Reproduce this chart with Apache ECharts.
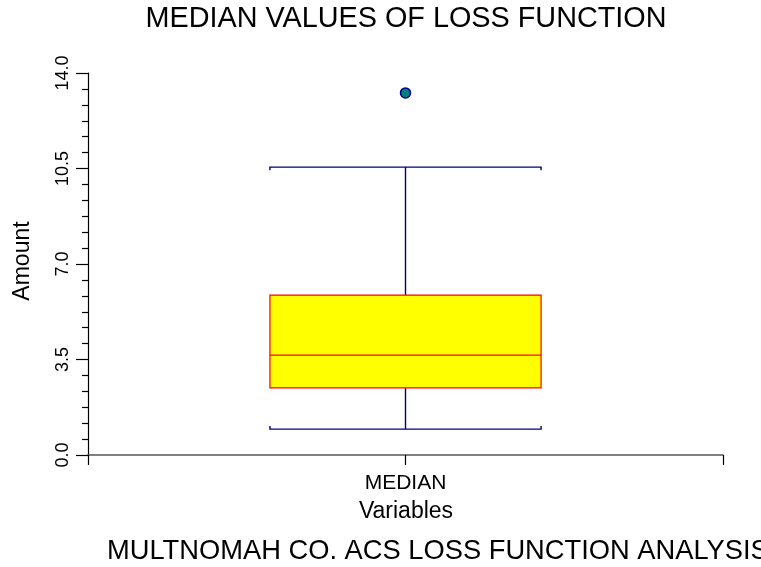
<!DOCTYPE html>
<html>
<head>
<meta charset="utf-8">
<script src="https://cdn.jsdelivr.net/npm/echarts@6/dist/echarts.min.js"></script>
<style>
html,body{margin:0;padding:0;background:#fff;}
#chart{width:761px;height:567px;}
</style>
</head>
<body>
<div id="chart"></div>
<script>
// ---- data ----
var categories = ['MEDIAN'];
var lowWhisker = [0.95];
var q1 = [2.46];
var median = [3.66];
var q3 = [5.86];
var highWhisker = [10.55];
var outliers = [13.27];
var yTicks = [0, 3.5, 7, 10.5, 14];

var FONT = '"Liberation Sans", Arial, sans-serif';

var boxData = categories.map(function (c, i) {
  return [i + 1, lowWhisker[i], q1[i], median[i], q3[i], highWhisker[i]];
});
var outlierData = outliers.map(function (v) { return [1, v]; });

var chart = echarts.init(document.getElementById('chart'), null, {renderer: 'canvas'});

function renderBox(params, api) {
  var x = api.value(0);
  var pLow = api.coord([x, api.value(1)]);
  var pQ1 = api.coord([x, api.value(2)]);
  var pMed = api.coord([x, api.value(3)]);
  var pQ3 = api.coord([x, api.value(4)]);
  var pHigh = api.coord([x, api.value(5)]);
  var halfW = api.size([1, 0])[0] * 0.427;
  var cx = pMed[0];
  var l = cx - halfW, r = cx + halfW;
  var wStyle = {stroke: '#000080', lineWidth: 1.4, fill: null};
  var bStyle = {stroke: '#ff0000', lineWidth: 1.2};
  return {
    type: 'group',
    children: [
      {type: 'line', shape: {x1: cx, y1: pHigh[1], x2: cx, y2: pQ3[1]}, style: wStyle},
      {type: 'line', shape: {x1: cx, y1: pQ1[1], x2: cx, y2: pLow[1]}, style: wStyle},
      {type: 'polyline', shape: {points: [[l, pHigh[1] + 3], [l, pHigh[1]], [r, pHigh[1]], [r, pHigh[1] + 3]]}, style: wStyle},
      {type: 'polyline', shape: {points: [[l, pLow[1] - 3], [l, pLow[1]], [r, pLow[1]], [r, pLow[1] - 3]]}, style: wStyle},
      {type: 'rect', shape: {x: l, y: pQ3[1], width: r - l, height: pQ1[1] - pQ3[1]},
        style: {fill: '#ffff00', stroke: '#ff0000', lineWidth: 1.2}},
      {type: 'line', shape: {x1: l, y1: pMed[1], x2: r, y2: pMed[1]}, style: bStyle}
    ]
  };
}

var option = {
  backgroundColor: '#ffffff',
  animation: false,
  grid: {left: 88, right: 38, top: 73, bottom: 112, containLabel: false},
  xAxis: {
    type: 'value',
    min: 0, max: 2, interval: 1,
    splitLine: {show: false},
    axisLine: {lineStyle: {color: '#555555', width: 1.5}},
    axisTick: {show: true, length: 10, lineStyle: {color: '#000000', width: 1.2}},
    axisLabel: {
      margin: 18,
      fontFamily: FONT, fontSize: 21, color: '#000',
      formatter: function (v) { return (v === 1) ? categories[0] : ''; }
    }
  },
  yAxis: {
    type: 'value',
    min: yTicks[0], max: yTicks[yTicks.length - 1], interval: 3.5,
    splitLine: {show: false},
    axisLine: {show: true, lineStyle: {color: '#000000', width: 1.2}},
    axisTick: {show: true, length: 12, lineStyle: {color: '#000000', width: 1.2}},
    minorTick: {show: true, splitNumber: 6, length: 6, lineStyle: {color: '#000000', width: 1.2}},
    axisLabel: {
      rotate: 90, margin: 16,
      fontFamily: FONT, fontSize: 18, color: '#000',
      formatter: function (v) { return v.toFixed(1); }
    }
  },
  graphic: [
    {type: 'text', x: 406, y: 19, style: {text: 'MEDIAN VALUES OF LOSS FUNCTION', font: '28.8px ' + FONT, fill: '#000', textAlign: 'center', textVerticalAlign: 'middle'}},
    {type: 'text', x: 406, y: 512, style: {text: 'Variables', font: '23px ' + FONT, fill: '#000', textAlign: 'center', textVerticalAlign: 'middle'}},
    {type: 'text', x: 107, y: 551, style: {text: 'MULTNOMAH CO. ACS LOSS FUNCTION ANALYSIS', font: '27.3px ' + FONT, fill: '#000', textAlign: 'left', textVerticalAlign: 'middle'}},
    {type: 'text', x: 23, y: 261, rotation: Math.PI / 2, style: {text: 'Amount', font: '23px ' + FONT, fill: '#000', textAlign: 'center', textVerticalAlign: 'middle'}}
  ],
  series: [
    {
      type: 'custom',
      renderItem: renderBox,
      data: boxData,
      clip: false,
      z: 3
    },
    {
      type: 'scatter',
      data: outlierData,
      symbol: 'circle',
      symbolSize: 10,
      itemStyle: {color: '#008080', borderColor: '#000080', borderWidth: 1.5, opacity: 1},
      z: 4
    }
  ]
};
chart.setOption(option);
</script>
</body>
</html>
